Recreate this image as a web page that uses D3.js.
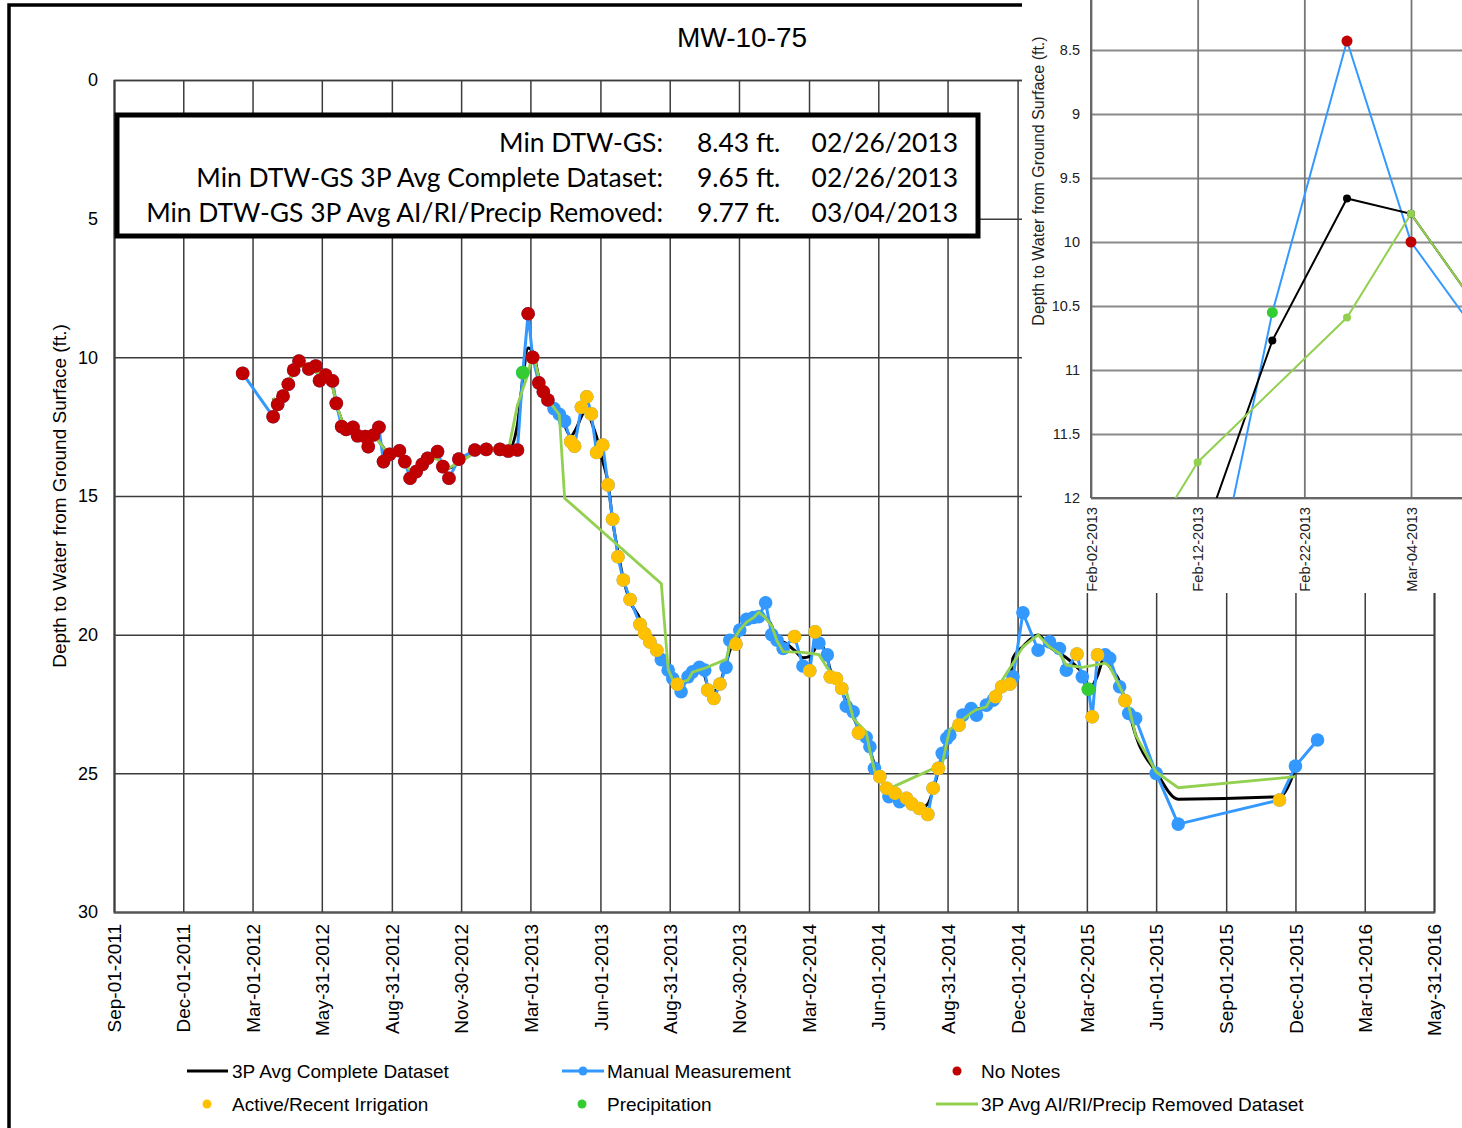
<!DOCTYPE html>
<html>
<head>
<meta charset="utf-8">
<script src="https://cdn.jsdelivr.net/npm/d3@7"></script>
<style>
  body { margin: 0; background: #fff; }
  svg { display: block; }
</style>
</head>
<body>
<div id="chart"></div>
<script>
// ---- data ----
const xTickLabels = ["Sep-01-2011","Dec-01-2011","Mar-01-2012","May-31-2012","Aug-31-2012","Nov-30-2012",
  "Mar-01-2013","Jun-01-2013","Aug-31-2013","Nov-30-2013","Mar-02-2014","Jun-01-2014","Aug-31-2014",
  "Dec-01-2014","Mar-02-2015","Jun-01-2015","Sep-01-2015","Dec-01-2015","Mar-01-2016","May-31-2016"];
const yTicks = [0, 5, 10, 15, 20, 25, 30];
const insetXTickLabels = ["Feb-02-2013","Feb-12-2013","Feb-22-2013","Mar-04-2013"];
const insetYTicks = [8.5, 9, 9.5, 10, 10.5, 11, 11.5, 12];

// manual measurements
const manualDates = [
  "2012-02-17","2012-03-28","2012-04-03","2012-04-10","2012-04-17","2012-04-24","2012-05-01","2012-05-14","2012-05-23","2012-05-28",
  "2012-06-05","2012-06-14","2012-06-19","2012-06-26","2012-07-02","2012-07-11","2012-07-17","2012-07-27","2012-07-31","2012-08-07",
  "2012-08-14","2012-08-20","2012-08-28","2012-09-10","2012-09-17","2012-09-24","2012-10-02","2012-10-10","2012-10-17","2012-10-30",
  "2012-11-06","2012-11-14","2012-11-27","2012-12-18","2013-01-02","2013-01-20","2013-01-31","2013-02-12","2013-02-19","2013-02-26",
  "2013-03-04","2013-03-12","2013-03-18","2013-03-24","2013-04-01","2013-04-08","2013-04-15","2013-04-23","2013-04-28","2013-05-07",
  "2013-05-14","2013-05-20","2013-05-27","2013-06-04","2013-06-11","2013-06-17","2013-06-24","2013-07-01","2013-07-10","2013-07-23",
  "2013-07-29","2013-08-05","2013-08-14","2013-08-20","2013-08-29","2013-09-04","2013-09-10","2013-09-15","2013-09-24","2013-09-30",
  "2013-10-09","2013-10-16","2013-10-20","2013-10-28","2013-11-05","2013-11-13","2013-11-18","2013-11-26","2013-12-01","2013-12-10",
  "2013-12-19","2013-12-26","2014-01-04","2014-01-12","2014-01-19","2014-01-27","2014-02-11","2014-02-22","2014-03-03","2014-03-10",
  "2014-03-15","2014-03-26","2014-03-30","2014-04-07","2014-04-14","2014-04-20","2014-04-29","2014-05-06","2014-05-16","2014-05-21",
  "2014-05-27","2014-06-03","2014-06-12","2014-06-15","2014-06-23","2014-06-29","2014-07-08","2014-07-15","2014-07-25","2014-08-05",
  "2014-08-12","2014-08-19","2014-08-24","2014-08-30","2014-09-03","2014-09-15","2014-09-20","2014-10-01","2014-10-08","2014-10-21",
  "2014-10-30","2014-11-02","2014-11-10","2014-11-21","2014-11-25","2014-12-08","2014-12-28","2015-01-12","2015-01-25","2015-02-03",
  "2015-02-17","2015-02-24","2015-03-04","2015-03-09","2015-03-16","2015-03-26","2015-04-01","2015-04-14","2015-04-21","2015-04-26",
  "2015-05-05","2015-06-01","2015-06-30","2015-11-10","2015-12-01","2015-12-30"];
const manualDepth = [
  10.58,12.14,11.70,11.40,10.97,10.46,10.13,10.42,10.31,10.84,
  10.64,10.85,11.66,12.50,12.60,12.52,12.83,12.86,13.22,12.80,
  12.52,13.76,13.50,13.37,13.76,14.36,14.12,13.86,13.64,13.40,
  13.94,14.36,13.67,13.34,13.32,13.32,13.38,13.34,10.55,8.43,
  10.00,10.92,11.24,11.54,11.85,12.05,12.30,13.04,13.20,11.80,
  11.42,12.04,13.43,13.16,14.60,15.84,17.19,18.03,18.73,19.63,
  19.96,20.26,20.56,20.90,21.28,21.58,21.79,22.06,21.52,21.34,
  21.18,21.28,22.00,22.30,21.78,21.18,20.20,20.34,19.83,19.45,
  19.38,19.35,18.85,20.00,20.20,20.50,20.07,21.13,21.30,19.90,
  20.30,20.73,21.52,21.58,21.94,22.58,22.78,23.54,23.70,24.04,
  24.82,25.12,25.54,25.84,25.72,26.02,25.90,26.10,26.27,26.48,
  25.54,24.82,24.28,23.74,23.62,23.26,22.90,22.66,22.90,22.54,
  22.36,22.24,21.88,21.78,21.52,19.21,20.56,20.26,20.50,21.28,
  20.70,21.52,21.97,22.96,20.73,20.73,20.85,21.88,22.38,22.84,
  23.02,25.00,26.83,25.96,24.74,23.80];
// N = no notes, I = active/recent irrigation, P = precipitation, M = plain manual
const manualNotes = ("NNNNNNNNNN" + "NNNNNNNNNN" + "NNNNNNNNNN" + "NNNNNNNNPN" + "NNNNMMMIII" +
  "IIIIIIIIII" + "IIIMMMIMMM" + "MMIIIMMIMM" + "MMMMMMIMII" + "MMIIIMMIMM" +
  "MIIMIMIIII" + "IIMMMIMMMM" + "MIIIMMMMMM" + "IMPIIMMMIM" + "MMMIMM").split("");

// 3P avg complete dataset (black), one per inner measurement date
const avgDates = manualDates.slice(1, -1);
const avgDepth = [
  11.47,11.75,11.36,10.94,10.52,10.34,10.29,10.52,10.60,
  10.78,11.05,11.67,12.25,12.54,12.65,12.74,12.97,12.96,12.85,
  13.03,13.26,13.54,13.54,13.83,14.08,14.11,13.87,13.63,13.66,
  13.90,13.99,13.79,13.44,13.33,13.34,13.35,12.42,10.77,9.66,
  9.78,10.72,11.23,11.54,11.81,12.07,12.46,12.85,12.68,12.14,
  11.75,12.30,12.88,13.73,14.53,15.88,17.02,17.98,18.80,19.44,
  19.95,20.26,20.57,20.91,21.25,21.55,21.81,21.79,21.64,21.35,
  21.27,21.49,21.86,22.03,21.75,21.05,20.57,20.12,19.87,19.55,
  19.39,19.19,19.40,19.68,20.23,20.26,20.57,20.83,20.78,20.50,
  20.31,20.85,21.28,21.68,22.03,22.43,22.97,23.34,23.76,24.19,
  24.66,25.16,25.50,25.70,25.86,25.88,26.01,26.09,26.28,26.10,
  25.61,24.88,24.28,23.88,23.54,23.26,22.94,22.82,22.70,22.60,
  22.38,22.16,21.97,21.73,20.84,20.43,20.01,20.44,20.68,20.83,
  21.17,21.40,22.15,21.89,21.47,20.77,21.15,21.70,22.37,22.75,
  23.62,24.95,25.93,25.84,24.83];

// 3P avg AI/RI/Precip removed dataset (light green)
const remDates = [
  "2012-03-28","2012-04-03","2012-04-10","2012-04-17","2012-04-24","2012-05-01","2012-05-14","2012-05-23","2012-05-28","2012-06-05",
  "2012-06-14","2012-06-19","2012-06-26","2012-07-02","2012-07-11","2012-07-17","2012-07-27","2012-07-31","2012-08-07","2012-08-14",
  "2012-08-20","2012-08-28","2012-09-10","2012-09-17","2012-09-24","2012-10-02","2012-10-10","2012-10-17","2012-10-30","2012-11-06",
  "2012-11-14","2012-11-27","2012-12-18","2013-01-02","2013-01-20","2013-01-31","2013-02-12","2013-02-26","2013-03-04","2013-03-12",
  "2013-03-18","2013-03-24","2013-04-01","2013-04-08","2013-04-15","2013-08-20","2013-08-29","2013-09-04","2013-09-15","2013-09-24",
  "2013-09-30","2013-10-09","2013-10-16","2013-11-13","2013-11-18","2013-12-01","2013-12-10","2013-12-19","2013-12-26","2014-01-04",
  "2014-01-12","2014-01-19","2014-01-27","2014-02-22","2014-03-15","2014-03-26","2014-04-20","2014-04-29","2014-05-16","2014-05-21",
  "2014-05-27","2014-06-15","2014-06-29","2014-08-24","2014-08-30","2014-09-03","2014-09-20","2014-10-01","2014-10-08","2014-10-21",
  "2014-10-30","2014-11-25","2014-12-08","2014-12-28","2015-01-12","2015-01-25","2015-02-03","2015-02-24","2015-03-26","2015-04-01",
  "2015-04-14","2015-04-26","2015-05-05","2015-06-01","2015-06-30","2015-12-01"];
const remDepth = [
  11.47,11.75,11.36,10.94,10.52,10.34,10.29,10.52,10.60,10.78,
  11.05,11.67,12.25,12.54,12.65,12.74,12.97,12.96,12.85,13.03,
  13.26,13.54,13.54,13.83,14.08,14.11,13.87,13.63,13.66,13.90,
  13.99,13.79,13.44,13.33,13.34,13.35,11.72,10.59,9.78,10.72,
  11.23,11.54,11.81,12.07,15.08,18.16,21.25,21.64,21.72,21.64,
  21.35,21.27,21.21,20.89,20.40,19.83,19.55,19.39,19.19,19.40,
  19.68,20.23,20.61,20.64,20.72,21.20,22.03,23.02,23.51,24.19,
  24.90,25.56,25.38,24.68,23.88,23.42,23.06,22.82,22.70,22.60,
  22.14,21.03,20.43,20.01,20.44,20.68,21.10,21.18,21.03,21.15,
  21.86,22.58,23.62,24.95,25.52,25.12];

const statLabels = ["Min DTW-GS:", "Min DTW-GS 3P Avg Complete Dataset:", "Min DTW-GS 3P Avg AI/RI/Precip Removed:"];
const statValues = ["8.43 ft.", "9.65 ft.", "9.77 ft."];
const statDates = ["02/26/2013", "02/26/2013", "03/04/2013"];

const legendNames = ["3P Avg Complete Dataset", "Manual Measurement", "No Notes",
  "Active/Recent Irrigation", "Precipitation", "3P Avg AI/RI/Precip Removed Dataset"];

// ---- colours ----
const C = {blue: "#3399ff", black: "#000000", lime: "#92d050", red: "#c00000", gold: "#ffc000", green: "#33cc33"};
const noteColor = {N: C.red, I: C.gold, P: C.green};
const FONT = "'Liberation Sans', Arial, sans-serif";

const parseDay = d3.timeParse("%Y-%m-%d");
const parseTick = d3.timeParse("%b-%d-%Y");
const fmtTick = d3.timeFormat("%b-%d-%Y");

const manual = manualDates.map((d, i) => ({date: parseDay(d), depth: manualDepth[i], note: manualNotes[i]}));
const avg = avgDates.map((d, i) => ({date: parseDay(d), depth: avgDepth[i]}));
const rem = remDates.map((d, i) => ({date: parseDay(d), depth: remDepth[i]}));

const svg = d3.select("#chart").append("svg")
  .attr("width", 1462).attr("height", 1128)
  .style("font-family", FONT);

svg.append("rect").attr("width", 1462).attr("height", 1128).attr("fill", "#fff");

// chart frame (only top & left edges fall inside the picture)
svg.append("path")
  .attr("d", "M9,1130V5H1470")
  .attr("fill", "none").attr("stroke", "#000").attr("stroke-width", 3.5);

// ---- main chart ----
const plot = {left: 114, right: 1434, top: 80, bottom: 912};
const xTickDates = xTickLabels.map(parseTick);
const x = d3.scaleTime()
  .domain([xTickDates[0], xTickDates[xTickDates.length - 1]])
  .range([plot.left, plot.right]);
const y = d3.scaleLinear().domain([0, 30]).range([plot.top, plot.bottom]);

const gy = svg.append("g")
  .attr("transform", `translate(${plot.left},0)`)
  .call(d3.axisLeft(y).tickValues(yTicks).tickSize(-(plot.right - plot.left)).tickPadding(16).tickFormat(d => d));
gy.select(".domain").attr("stroke", "#444").attr("stroke-width", 1.5);
gy.selectAll(".tick line").attr("stroke", "#3c3c3c").attr("stroke-width", 1.5);
gy.selectAll(".tick text").attr("fill", "#000")
  .style("font-family", FONT).style("font-size", "18px");

const gx = svg.append("g")
  .attr("transform", `translate(0,${plot.bottom})`)
  .call(d3.axisBottom(x).tickValues(xTickDates).tickSize(-(plot.bottom - plot.top)).tickFormat(fmtTick));
gx.select(".domain").attr("stroke", "#555").attr("stroke-width", 2);
gx.selectAll(".tick line").attr("stroke", "#3c3c3c").attr("stroke-width", 1.5);
gx.selectAll(".tick text")
  .attr("transform", "rotate(-90)")
  .attr("text-anchor", "end")
  .attr("x", -12).attr("y", 0).attr("dy", "0.35em")
  .attr("fill", "#000")
  .style("font-family", FONT).style("font-size", "19px");

svg.append("text")
  .attr("x", 742).attr("y", 47)
  .attr("text-anchor", "middle")
  .style("font-size", "28px")
  .text("MW-10-75");

svg.append("text")
  .attr("transform", "translate(66,496) rotate(-90)")
  .attr("text-anchor", "middle")
  .style("font-size", "19px")
  .text("Depth to Water from Ground Surface (ft.)");

const line = d3.line().x(d => x(d.date)).y(d => y(d.depth));
const smooth = d3.line().x(d => x(d.date)).y(d => y(d.depth)).curve(d3.curveMonotoneX);

svg.append("path").datum(avg)
  .attr("d", smooth).attr("fill", "none")
  .attr("stroke", C.black).attr("stroke-width", 3);

svg.append("path").datum(manual)
  .attr("d", line).attr("fill", "none")
  .attr("stroke", C.blue).attr("stroke-width", 3);

svg.append("g").selectAll("circle")
  .data(manual)
  .join("circle")
    .attr("cx", d => x(d.date)).attr("cy", d => y(d.depth))
    .attr("r", 6.8).attr("fill", C.blue);

svg.append("path").datum(rem)
  .attr("d", line).attr("fill", "none")
  .attr("stroke", C.lime).attr("stroke-width", 2.8);

svg.append("g").selectAll("circle")
  .data(manual.filter(d => noteColor[d.note]))
  .join("circle")
    .attr("cx", d => x(d.date)).attr("cy", d => y(d.depth))
    .attr("r", 6.8).attr("fill", d => noteColor[d.note]);

// ---- stats box ----
const box = svg.append("g");
box.append("rect")
  .attr("x", 117).attr("y", 115).attr("width", 861).attr("height", 121)
  .attr("fill", "#fff").attr("stroke", "#000").attr("stroke-width", 5);

const statFont = "Lato, 'Open Sans', sans-serif";
const probe = box.append("text").style("font-family", statFont).style("font-size", "26px").text(statLabels[2]);
const statSize = 26 * 517 / probe.node().getComputedTextLength();
probe.remove();

statLabels.forEach((s, i) => {
  const by = 152 + i * 35;
  box.append("text").attr("x", 663).attr("y", by).attr("text-anchor", "end")
    .style("font-family", statFont).style("font-size", statSize + "px").text(s);
  box.append("text").attr("x", 697).attr("y", by)
    .style("font-family", statFont).style("font-size", statSize + "px").text(statValues[i]);
  box.append("text").attr("x", 958).attr("y", by).attr("text-anchor", "end")
    .style("font-family", statFont).style("font-size", statSize + "px").text(statDates[i]);
});

// ---- legend ----
const leg = svg.append("g").style("font-size", "19px");
const row1 = 1071, row2 = 1104;
leg.append("line").attr("x1", 187).attr("x2", 228).attr("y1", row1).attr("y2", row1)
  .attr("stroke", C.black).attr("stroke-width", 3);
leg.append("line").attr("x1", 562).attr("x2", 604).attr("y1", row1).attr("y2", row1)
  .attr("stroke", C.blue).attr("stroke-width", 3);
leg.append("circle").attr("cx", 583).attr("cy", row1).attr("r", 4.5).attr("fill", C.blue);
leg.append("circle").attr("cx", 957).attr("cy", row1).attr("r", 4.5).attr("fill", C.red);
leg.append("circle").attr("cx", 207).attr("cy", row2).attr("r", 4.5).attr("fill", C.gold);
leg.append("circle").attr("cx", 582).attr("cy", row2).attr("r", 4.5).attr("fill", C.green);
leg.append("line").attr("x1", 936).attr("x2", 978).attr("y1", row2).attr("y2", row2)
  .attr("stroke", C.lime).attr("stroke-width", 3);
const legPos = [[232, row1], [607, row1], [981, row1], [232, row2], [607, row2], [981, row2]];
leg.selectAll("text")
  .data(legendNames)
  .join("text")
    .attr("x", (d, i) => legPos[i][0]).attr("y", (d, i) => legPos[i][1])
    .attr("dy", "0.35em")
    .text(d => d);

// ---- zoomed inset (top right) ----
const ins = {left: 1091, right: 1462, top: 0, bottom: 498};
const g2 = svg.append("g");
g2.append("rect").attr("x", 1022).attr("y", 0).attr("width", 440).attr("height", 593).attr("fill", "#fff");

const insetXDates = insetXTickLabels.map(parseTick);
const xi = d3.scaleTime().domain([insetXDates[0], insetXDates[3]]).range([1091, 1411]);
const yi = d3.scaleLinear().domain([8.5, 12]).range([50, 498]);

const giy = g2.append("g")
  .attr("transform", `translate(${ins.left},0)`)
  .call(d3.axisLeft(yi).tickValues(insetYTicks).tickSize(-(ins.right - ins.left)).tickSizeOuter(0).tickPadding(11).tickFormat(d => d));
giy.select(".domain").remove();
giy.selectAll(".tick line").attr("stroke", "#8a8a8a").attr("stroke-width", 1.8);
giy.selectAll(".tick text").attr("fill", "#222")
  .style("font-family", FONT).style("font-size", "14.5px");

const gix = g2.append("g")
  .attr("transform", `translate(0,${ins.bottom})`)
  .call(d3.axisBottom(xi).tickValues(insetXDates).tickSize(-ins.bottom).tickSizeOuter(0).tickFormat(fmtTick));
gix.select(".domain").remove();
gix.selectAll(".tick line").attr("stroke", "#777").attr("stroke-width", 1.8);
gix.selectAll(".tick text")
  .attr("transform", "rotate(-90)")
  .attr("text-anchor", "end")
  .attr("x", -9).attr("y", 0).attr("dy", "0.35em")
  .attr("fill", "#222")
  .style("font-family", FONT).style("font-size", "14.8px");

g2.append("line").attr("x1", ins.left).attr("x2", ins.right).attr("y1", ins.bottom).attr("y2", ins.bottom)
  .attr("stroke", "#666").attr("stroke-width", 2);
g2.append("line").attr("x1", ins.left).attr("x2", ins.left).attr("y1", 0).attr("y2", ins.bottom)
  .attr("stroke", "#666").attr("stroke-width", 2);

g2.append("text")
  .attr("transform", "translate(1044,181) rotate(-90)")
  .attr("text-anchor", "middle")
  .style("font-size", "16px").attr("fill", "#222")
  .text("Depth to Water from Ground Surface (ft.)");

svg.append("clipPath").attr("id", "insetClip")
  .append("rect").attr("x", ins.left).attr("y", ins.top)
  .attr("width", ins.right - ins.left).attr("height", ins.bottom - ins.top);

const gc = g2.append("g").attr("clip-path", "url(#insetClip)");
const lineI = d3.line().x(d => xi(d.date)).y(d => yi(d.depth));

gc.append("path").datum(manual).attr("d", lineI).attr("fill", "none")
  .attr("stroke", C.blue).attr("stroke-width", 2);
gc.append("path").datum(avg).attr("d", lineI).attr("fill", "none")
  .attr("stroke", C.black).attr("stroke-width", 2);
gc.append("g").selectAll("circle").data(avg).join("circle")
  .attr("cx", d => xi(d.date)).attr("cy", d => yi(d.depth)).attr("r", 4).attr("fill", C.black);
gc.append("path").datum(rem).attr("d", lineI).attr("fill", "none")
  .attr("stroke", C.lime).attr("stroke-width", 2);
gc.append("g").selectAll("circle").data(rem).join("circle")
  .attr("cx", d => xi(d.date)).attr("cy", d => yi(d.depth)).attr("r", 4).attr("fill", C.lime);
gc.append("g").selectAll("circle")
  .data(manual.filter(d => noteColor[d.note]))
  .join("circle")
    .attr("cx", d => xi(d.date)).attr("cy", d => yi(d.depth))
    .attr("r", 5.5).attr("fill", d => noteColor[d.note]);
</script>
</body>
</html>
